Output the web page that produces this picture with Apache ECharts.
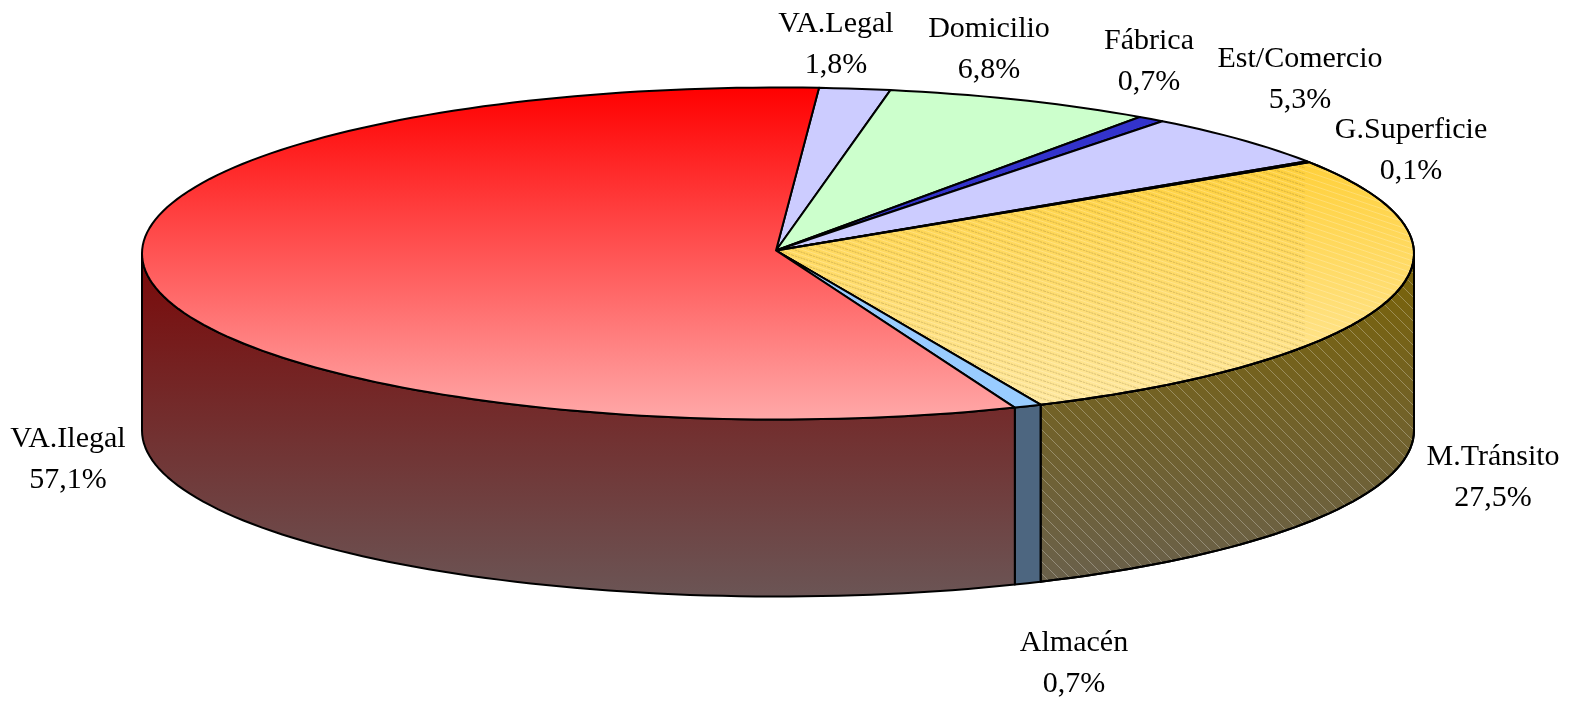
<!DOCTYPE html>
<html>
<head>
<meta charset="utf-8">
<style>html,body{margin:0;padding:0;background:#fff}#c{width:1585px;height:710px}</style>
<script src="https://cdn.jsdelivr.net/npm/echarts@6/dist/echarts.min.js"></script>
</head>
<body>
<div id="c"></div>
<script>
const categories = ['VA.Legal','Domicilio','Fábrica','Est/Comercio','G.Superficie','M.Tránsito','Almacén','VA.Ilegal'];
const values = [1.8, 6.8, 0.7, 5.3, 0.1, 27.5, 0.7, 57.1];

// Styling, per category
const topColors = [['#ccccff','#ccccff'],['#ccffcc','#ccffcc'],['#3333cc','#3333cc'],['#ccccff','#ccccff'],['#ffffcc','#ffffcc'],['#ffc91c','#ffeaa6'],['#99ccff','#99ccff'],['#ff0000','#ffa8a8']];
const sideColors = [['#666680','#666680'],['#668066','#668066'],['#1a1a66','#1a1a66'],['#666680','#666680'],['#808066','#808066'],['#7a6306','#69604e'],['#4d6680','#4d6680'],['#7a0808','#6b5555']];
const labelAnchors = [[836,45],[989,50],[1149,62],[1300,80],[1411,151],[1493,478],[1074,664],[68,460]];

// Pie geometry in pixels
const G = {cx:778, cy:253.5, rx:636, ry:166, depth:177, start:3.7, hatchEdge:1305};
const total = values.reduce((a,b)=>a+b,0);
const bounds = values.reduce((acc,v)=>{acc.push(acc[acc.length-1]+v/total*360);return acc;},[G.start]);
const px = (a,dy=0)=>{const r=a*Math.PI/180;return [G.cx+G.rx*Math.sin(r), G.cy-G.ry*Math.cos(r)+dy];};
const arc = (a0,a1,dy=0)=>{const n=Math.max(2,Math.ceil((a1-a0)/1.5));const o=[];for(let i=0;i<=n;i++)o.push(px(a0+(a1-a0)*i/n,dy));return o;};
const vGrad=(c,y0,y1)=>({type:'linear',x:0,y:y0,x2:0,y2:y1,global:true,colorStops:[{offset:0,color:c[0]},{offset:1,color:c[1]}]});

function tile(w,h,draw){const t=document.createElement('canvas');t.width=w;t.height=h;draw(t.getContext('2d'));return {image:t,repeat:'repeat'};}
const sideHatch = tile(12,12,g=>{g.strokeStyle='rgba(255,255,255,0.28)';g.lineWidth=1;g.beginPath();g.moveTo(-1,-1);g.lineTo(13,13);g.stroke();});
const topLight = tile(18,6,g=>{g.strokeStyle='rgba(255,255,255,0.22)';g.lineWidth=1;g.beginPath();g.moveTo(0,0);g.lineTo(18,6);g.moveTo(0,-6);g.lineTo(18,0);g.moveTo(0,6);g.lineTo(18,12);g.stroke();});
const topDark = tile(18,6,g=>{g.strokeStyle='rgba(110,90,40,0.28)';g.lineWidth=1;g.setLineDash([2,1]);g.beginPath();g.moveTo(0,3);g.lineTo(18,9);g.moveTo(0,-3);g.lineTo(18,3);g.stroke();});

const line = {stroke:'#000',lineWidth:2,lineJoin:'round'};
const HATCHED = categories.indexOf('M.Tránsito');

function renderSide(params,api){
  const i=params.dataIndex, a0=bounds[i], a1=bounds[i+1];
  const lo=Math.max(a0,90), hi=Math.min(a1,270);
  if(hi<=lo) return {type:'group',children:[]};
  const upper=arc(lo,hi), lower=arc(lo,hi,G.depth).reverse();
  const pts=upper.concat(lower);
  const children=[{type:'polygon',shape:{points:pts},style:Object.assign({fill:vGrad(sideColors[i],G.cy,G.cy+G.ry+G.depth)},line)}];
  if(i===HATCHED) children.push({type:'polygon',shape:{points:pts},style:{fill:sideHatch}},
    {type:'polygon',shape:{points:pts},style:Object.assign({fill:'none'},line)});
  return {type:'group',children};
}
function renderTop(params,api){
  const i=params.dataIndex;
  const pts=[[G.cx-2,G.cy-3]].concat(arc(bounds[i],bounds[i+1]));
  const children=[{type:'polygon',shape:{points:pts},style:Object.assign({fill:vGrad(topColors[i],G.cy-G.ry,G.cy+G.ry)},line)}];
  if(i===HATCHED){
    children.push({type:'polygon',shape:{points:pts},style:{fill:topLight}});
    children.push({type:'polygon',shape:{points:pts.map(p=>[Math.min(p[0],G.hatchEdge),p[1]])},style:{fill:topDark}});
    children.push({type:'polygon',shape:{points:pts},style:Object.assign({fill:'none'},line)});
  }
  return {type:'group',children};
}
function renderLabel(params,api){
  const i=params.dataIndex, a=labelAnchors[i];
  const txt=categories[i]+'\n'+api.value(0).toFixed(1).replace('.',',')+'%';
  return {type:'text',x:a[0],y:a[1],style:{text:txt,fill:'#000',font:'30px "Liberation Serif"',lineHeight:41,align:'center',verticalAlign:'middle'}};
}
const chart=echarts.init(document.getElementById('c'),null,{renderer:'canvas'});
const data=values.map(v=>[v]);
chart.setOption({
  animation:false,
  backgroundColor:'#fff',
  series:[
    {type:'custom',coordinateSystem:'none',renderItem:renderSide,data,silent:true,z:1},
    {type:'custom',coordinateSystem:'none',renderItem:renderTop,data,silent:true,z:2},
    {type:'custom',coordinateSystem:'none',renderItem:renderLabel,data,silent:true,z:3}
  ]
});
</script>
</body>
</html>
